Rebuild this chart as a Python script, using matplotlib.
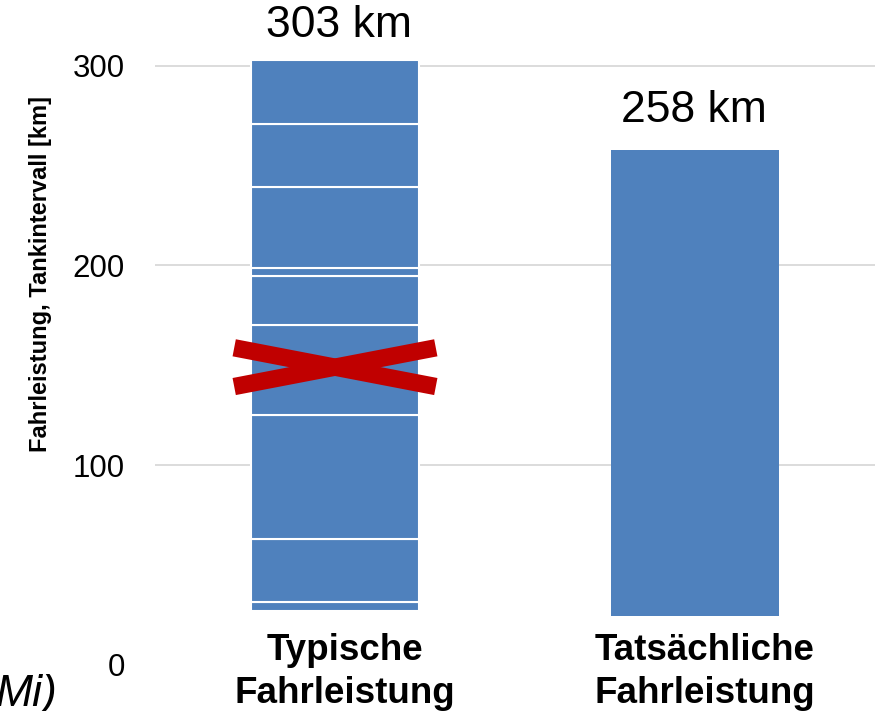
import matplotlib
matplotlib.use("Agg")
import matplotlib.pyplot as plt
import matplotlib.transforms as mtransforms
import numpy as np

# ---- data ----
categories = ["Typische\nFahrleistung", "Tatsächliche\nFahrleistung"]
typical_start = 27
typical_intervals = [4.5, 31.5, 62, 45, 24.5, 4, 40.5, 32, 32]
actual_start = 24.5
actual_total = 258
totals = [303, 258]
value_labels = ["303 km", "258 km"]
yticks = [0, 100, 200, 300]
ylabel = "Fahrleistung, Tankintervall [km]"

# ---- style ----
plt.rcParams['font.family'] = ['Liberation Sans', 'DejaVu Sans']
blue = '#4F81BD'
red = '#C00000'
bar_w = 0.467

fig = plt.figure(figsize=(8.8, 7.11), dpi=100)
ax = fig.add_axes([155 / 880, (711 - 664.7) / 711, 720 / 880, 639 / 711])

x = np.arange(len(categories))

# stacked intervals for the typical bar
bottom = typical_start
for h in typical_intervals:
    ax.bar(x[0], h, bottom=bottom, width=bar_w, color=blue,
           edgecolor='white', linewidth=1.5, zorder=2)
    bottom += h
# actual bar
ax.bar(x[1], actual_total - actual_start, bottom=actual_start, width=bar_w,
       color=blue, linewidth=0, zorder=2)

# red cross over the typical bar
cy, dy, dx = 149, 9.7, 0.28
ax.plot([x[0] - dx, x[0] + dx], [cy - dy, cy + dy], color=red, lw=12.5,
        solid_capstyle='butt', zorder=3)
ax.plot([x[0] - dx, x[0] + dx], [cy + dy, cy - dy], color=red, lw=12.5,
        solid_capstyle='butt', zorder=3)

# value labels
offsets = [(3, 16), (-1, 19.5)]
for xi, t, lab, off in zip(x, totals, value_labels, offsets):
    ax.annotate(lab, (xi, t), xytext=off, textcoords='offset points',
                ha='center', va='baseline', fontsize=32, color='black',
                annotation_clip=False)

ax.set_xlim(-0.5, 1.5)
ax.set_ylim(0, 320)
ax.set_yticks(yticks)
ax.tick_params(axis='y', length=0, pad=21.6, labelsize=22.5, labelcolor='black')
ax.set_xticks(x, categories, fontweight='bold', fontsize=26.5)
ax.tick_params(axis='x', length=0, pad=-22.5, labelcolor='black')
shift = mtransforms.ScaledTranslation(7 / 72, 0, fig.dpi_scale_trans)
for lbl in ax.get_xticklabels():
    lbl.set_linespacing(1.28)
    lbl.set_transform(lbl.get_transform() + shift)

ax.yaxis.grid(True, color='#D9D9D9', linewidth=1.3, zorder=0)
ax.set_axisbelow(True)
ax.get_ygridlines()[0].set_visible(False)
for sp in ax.spines.values():
    sp.set_visible(False)

fig.text(41 / 880, 1 - 274 / 711, ylabel, rotation=90, ha='center', va='center',
         fontsize=17, fontweight='bold')
fig.text(57 / 880, 5 / 711, "Mi)", ha='right', va='baseline', fontsize=32,
         fontstyle='italic')

fig.savefig('out.png', dpi=100)
